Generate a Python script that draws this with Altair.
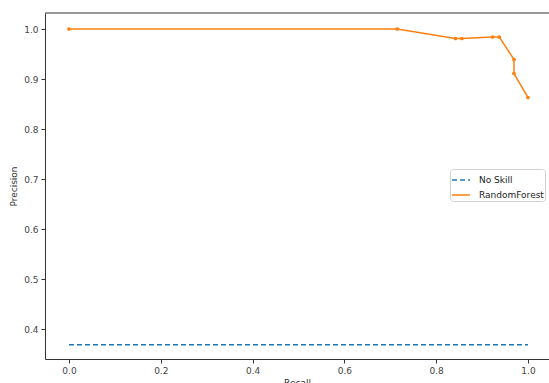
import altair as alt
import pandas as pd

# Data
rf_recall = [0.0, 0.715, 0.842, 0.856, 0.923, 0.9375, 0.9695, 0.9695, 1.0]
rf_precision = [1.0, 1.0, 0.981, 0.981, 0.984, 0.984, 0.939, 0.911, 0.863]
noskill_recall = [0.0, 1.0]
noskill_precision = [0.3684, 0.3684]
series_names = ["No Skill", "RandomForest"]
x_ticks = [0.0, 0.2, 0.4, 0.6, 0.8, 1.0]
y_ticks = [0.4, 0.5, 0.6, 0.7, 0.8, 0.9, 1.0]

rows = []
for i, (r, p) in enumerate(zip(noskill_recall, noskill_precision)):
    rows.append({"series": "No Skill", "recall": r, "precision": p, "order": i})
for i, (r, p) in enumerate(zip(rf_recall, rf_precision)):
    rows.append({"series": "RandomForest", "recall": r, "precision": p, "order": i})
df = pd.DataFrame(rows)

W, H = 504, 346
FONT = "DejaVu Sans"
xscale = alt.Scale(domain=[-0.0523, 1.0458], nice=False, zero=False)
yscale = alt.Scale(domain=[0.34, 1.032], nice=False, zero=False)

xaxis = alt.Axis(values=x_ticks, format=".1f", title="Recall", grid=False,
                 tickSize=4, labelPadding=3, titlePadding=3,
                 domainColor="#333", tickColor="#333",
                 labelColor="#444", titleColor="#333",
                 labelFontSize=9, titleFontSize=9, labelFont=FONT,
                 titleFont=FONT, titleFontWeight="normal")
yaxis = alt.Axis(values=y_ticks, format=".1f", title="Precision", grid=False,
                 tickSize=4, labelPadding=3, titlePadding=5,
                 domainColor="#333", tickColor="#333",
                 labelColor="#444", titleColor="#333",
                 labelFontSize=9, titleFontSize=9, labelFont=FONT,
                 titleFont=FONT, titleFontWeight="normal")

legend = alt.Legend(title=None, orient="none", legendX=405, legendY=156,
                    symbolType="stroke", symbolSize=324,
                    symbolStrokeWidth=1.5, labelOffset=8,
                    labelFontSize=9, labelFont=FONT,
                    labelColor="#222", rowPadding=-4,
                    padding=1, strokeColor="#d0d0d0",
                    fillColor="white", cornerRadius=3)

lines = alt.Chart(df).mark_line(strokeWidth=1.5).encode(
    x=alt.X("recall:Q", scale=xscale, axis=xaxis),
    y=alt.Y("precision:Q", scale=yscale, axis=yaxis),
    order="order:Q",
    color=alt.Color("series:N",
                    scale=alt.Scale(domain=series_names, range=["#1f77b4", "#ff7f0e"]),
                    legend=legend),
    strokeDash=alt.StrokeDash("series:N",
                              scale=alt.Scale(domain=series_names, range=[[5, 3], [1, 0]]),
                              legend=legend),
)

points = alt.Chart(df[df["series"] == "RandomForest"]).mark_point(
    filled=True, size=14, opacity=1
).encode(
    x=alt.X("recall:Q", scale=xscale),
    y=alt.Y("precision:Q", scale=yscale),
    color=alt.value("#ff7f0e"),
)

top_spine = alt.Chart(pd.DataFrame({"a": [0]})).mark_rule(color="#333", strokeWidth=1).encode(
    x=alt.value(0), x2=alt.value(W), y=alt.value(0)
)

chart = alt.layer(lines, points, top_spine).properties(
    width=W, height=H,
    autosize=alt.AutoSizeParams(type="none"),
    padding={"left": 45, "top": 13, "right": 0, "bottom": 24},
    background="white",
).configure_view(stroke=None)

chart.save("out.html", embed_options={"renderer": "svg", "actions": False})
